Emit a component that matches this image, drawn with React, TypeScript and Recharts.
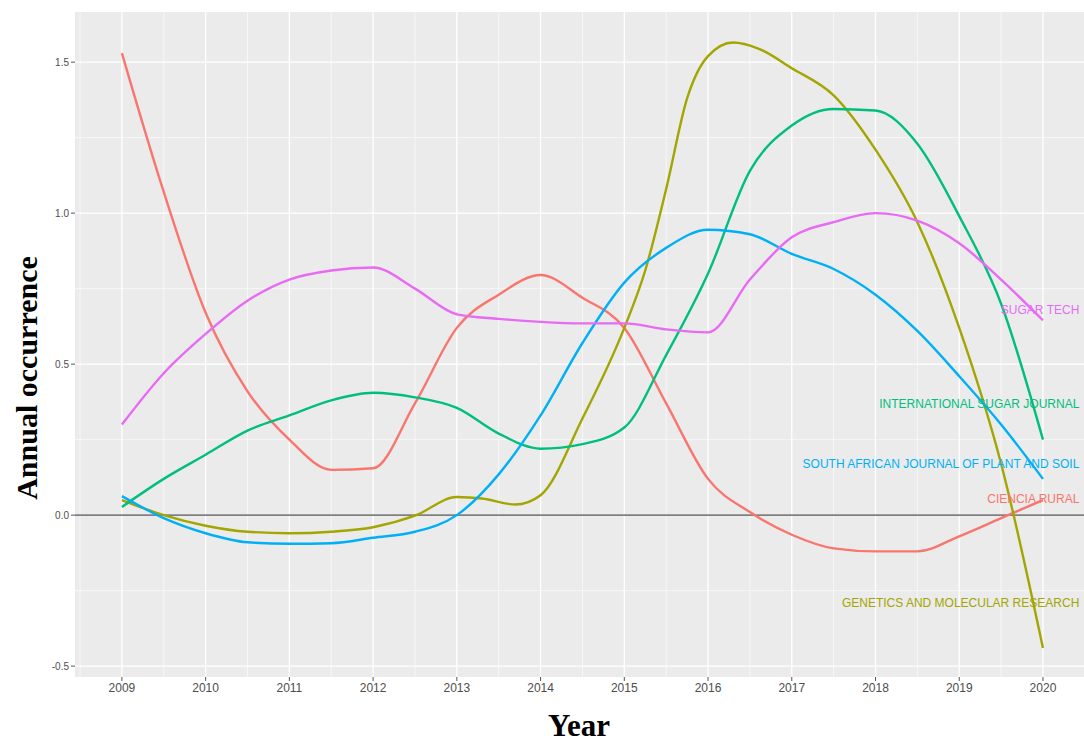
import {
  CartesianGrid,
  Label,
  Line,
  LineChart,
  ReferenceDot,
  ReferenceLine,
  XAxis,
  YAxis,
} from "recharts";

// half-year sampling
const YEARS = [
  2009, 2009.5, 2010, 2010.5, 2011, 2011.5, 2012, 2012.5, 2013, 2013.5, 2014, 2014.5,
  2015, 2015.5, 2016, 2016.5, 2017, 2017.5, 2018, 2018.5, 2019, 2019.5, 2020,
];

const CIENCIA_RURAL = [
  1.53, 1.07, 0.67, 0.41, 0.25, 0.15, 0.155, 0.37, 0.62, 0.73, 0.795, 0.72,
  0.62, 0.37, 0.12, 0.01, -0.065, -0.11, -0.12, -0.12, -0.07, -0.01, 0.05,
];
const INTL_SUGAR_JOURNAL = [
  0.027, 0.12, 0.2, 0.28, 0.33, 0.38, 0.405, 0.39, 0.355, 0.27, 0.22, 0.235,
  0.29, 0.53, 0.8, 1.14, 1.29, 1.345, 1.34, 1.23, 0.99, 0.7, 0.25,
];
const SA_JOURNAL_PLANT_SOIL = [
  0.063, -0.01, -0.06, -0.09, -0.095, -0.093, -0.075, -0.055, 0.0, 0.135, 0.33, 0.57,
  0.77, 0.885, 0.945, 0.93, 0.865, 0.815, 0.73, 0.61, 0.46, 0.3, 0.12,
];
const SUGAR_TECH = [
  0.3, 0.47, 0.6, 0.71, 0.78, 0.81, 0.82, 0.75, 0.665, 0.65, 0.64, 0.635,
  0.635, 0.615, 0.605, 0.78, 0.92, 0.97, 1.0, 0.975, 0.9, 0.78, 0.645,
];

// this one has a sharp peak, so it gets a few extra readings
const GMR_YEARS = [
  2009, 2009.5, 2010, 2010.5, 2011, 2011.5, 2012, 2012.5, 2013, 2013.3, 2013.7, 2014,
  2014.5, 2015, 2015.25, 2015.5, 2015.75, 2016, 2016.3, 2016.6, 2017, 2017.5, 2018,
  2018.5, 2019, 2019.5, 2020,
];
const GENETICS_MOL_RESEARCH = [
  0.05, 0.0, -0.035, -0.055, -0.06, -0.055, -0.04, -0.002, 0.06, 0.055, 0.035, 0.066,
  0.32, 0.62, 0.81, 1.08, 1.38, 1.52, 1.565, 1.545, 1.48, 1.39, 1.21,
  0.97, 0.62, 0.17, -0.44,
];

const X_TICKS = [2009, 2010, 2011, 2012, 2013, 2014, 2015, 2016, 2017, 2018, 2019, 2020];
const X_MINOR = [
  2008.5, 2009.5, 2010.5, 2011.5, 2012.5, 2013.5, 2014.5, 2015.5, 2016.5, 2017.5,
  2018.5, 2019.5,
];
const Y_TICKS = [-0.5, 0, 0.5, 1, 1.5];
const Y_MINOR = [-0.25, 0.25, 0.75, 1.25];

const END_LABELS = [
  { name: "SUGAR TECH", y: 0.68, color: "#E76BF3" },
  { name: "INTERNATIONAL SUGAR JOURNAL", y: 0.37, color: "#00BF7D" },
  { name: "SOUTH AFRICAN JOURNAL OF PLANT AND SOIL", y: 0.17, color: "#00B0F6" },
  { name: "CIENCIA RURAL", y: 0.053, color: "#F8766D" },
  { name: "GENETICS AND MOLECULAR RESEARCH", y: -0.29, color: "#A3A500" },
];

const table = YEARS.map((year, i) => ({
  year,
  cr: CIENCIA_RURAL[i],
  isj: INTL_SUGAR_JOURNAL[i],
  saj: SA_JOURNAL_PLANT_SOIL[i],
  st: SUGAR_TECH[i],
}));
const gmrTable = GMR_YEARS.map((year, i) => ({ year, gmr: GENETICS_MOL_RESEARCH[i] }));

const X_DOMAIN: [number, number] = [2008.44, 2020.49];
const Y_DOMAIN: [number, number] = [-0.536, 1.666];

const tickStyle = { fontSize: 12, fill: "#4D4D4D", fontFamily: "Liberation Sans, Arial, sans-serif" };
const LW = 2.4;

export default function App() {
  return (
    <div style={{ position: "absolute", left: 0, top: 0, width: 1084, height: 742, background: "#fff" }}>
      <LineChart
        width={1084}
        height={742}
        data={table}
        margin={{ top: 12, right: 0, left: 0, bottom: 0 }}
      >
        <CartesianGrid
          fill="#EBEBEB"
          stroke="#FFFFFF"
          strokeWidth={0.6}
          horizontalValues={Y_MINOR}
          verticalValues={X_MINOR}
        />
        <CartesianGrid
          stroke="#FFFFFF"
          strokeWidth={1.3}
          horizontalValues={Y_TICKS}
          verticalValues={X_TICKS}
        />
        <XAxis
          type="number"
          dataKey="year"
          domain={X_DOMAIN}
          ticks={X_TICKS}
          allowDataOverflow
          height={65}
          tick={tickStyle}
          tickLine={{ stroke: "#555" }}
          tickSize={4}
          axisLine={false}
          interval={0}
        >
          <Label
            content={() => (
              <text
                x={579}
                y={736}
                textAnchor="middle"
                fontFamily="Liberation Serif, Times New Roman, serif"
                fontWeight="bold"
                fontSize={31}
                fill="#000"
              >
                Year
              </text>
            )}
          />
        </XAxis>
        <YAxis
          type="number"
          domain={Y_DOMAIN}
          ticks={Y_TICKS}
          allowDataOverflow
          width={75}
          tick={{ ...tickStyle, fontSize: 10 }}
          tickLine={{ stroke: "#555" }}
          tickSize={4}
          axisLine={false}
          tickFormatter={(v: number) => v.toFixed(1)}
        >
          <Label
            content={() => (
              <text
                x={0}
                y={0}
                transform="translate(37 378) rotate(-90)"
                textAnchor="middle"
                fontFamily="Liberation Serif, Times New Roman, serif"
                fontWeight="bold"
                fontSize={30}
                fill="#000"
              >
                Annual occurrence
              </text>
            )}
          />
        </YAxis>
        <ReferenceLine y={0} stroke="#7F7F7F" strokeWidth={1.6} />
        <Line type="monotone" dataKey="cr" stroke="#F8766D" strokeWidth={LW} dot={false} isAnimationActive={false} />
        <Line
          type="monotone"
          data={gmrTable}
          dataKey="gmr"
          stroke="#A3A500"
          strokeWidth={LW}
          dot={false}
          isAnimationActive={false}
        />
        <Line type="monotone" dataKey="isj" stroke="#00BF7D" strokeWidth={LW} dot={false} isAnimationActive={false} />
        <Line type="monotone" dataKey="saj" stroke="#00B0F6" strokeWidth={LW} dot={false} isAnimationActive={false} />
        <Line type="monotone" dataKey="st" stroke="#E76BF3" strokeWidth={LW} dot={false} isAnimationActive={false} />
        {END_LABELS.map((l) => (
          <ReferenceDot
            key={l.name}
            x={2020.47}
            y={l.y}
            r={1}
            fill="none"
            stroke="none"
            label={{
              value: l.name,
              position: "left",
              offset: 2,
              fill: l.color,
              fontSize: 12,
              fontFamily: "Liberation Sans, Arial, sans-serif",
            }}
          />
        ))}
      </LineChart>
    </div>
  );
}
